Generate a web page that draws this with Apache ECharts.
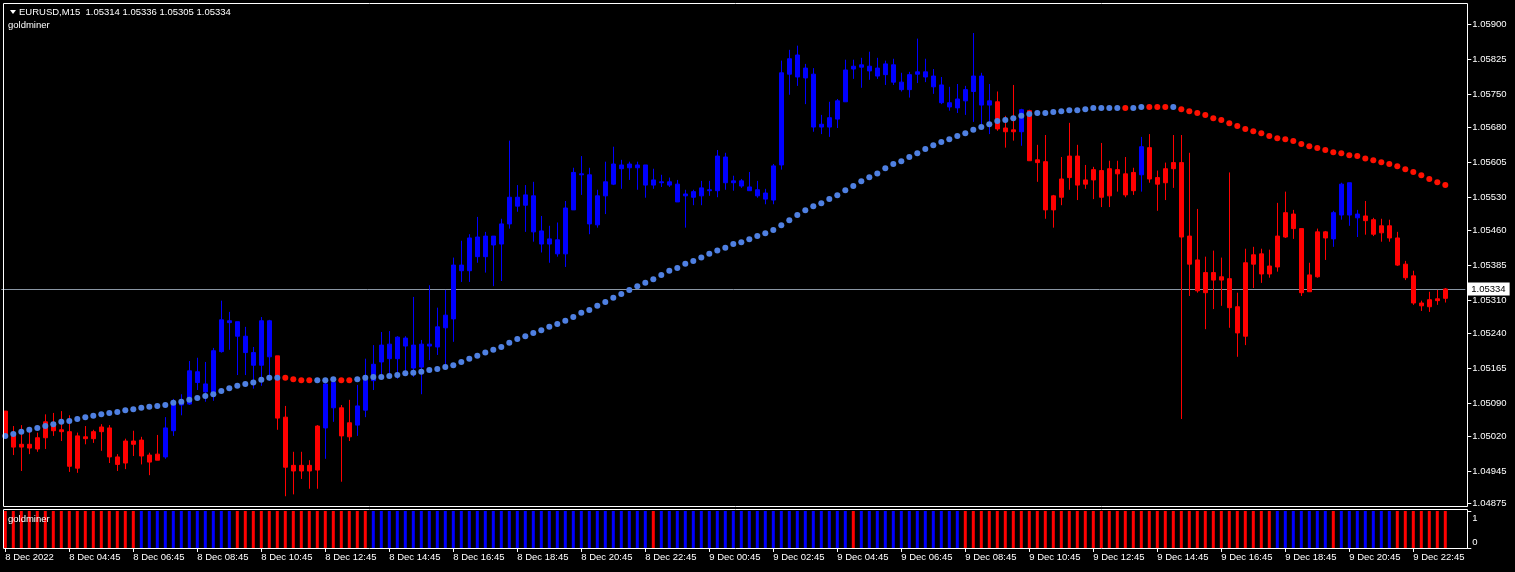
<!DOCTYPE html>
<html><head><meta charset="utf-8">
<script src="https://cdn.jsdelivr.net/npm/echarts@6/dist/echarts.min.js"></script>
<style>html,body{margin:0;padding:0;background:#000;overflow:hidden}#c{width:1515px;height:572px}</style>
</head><body><div id="c"></div>
<script>
// ---- DATA (EURUSD M15, bars from 8 Dec 02:45 to 9 Dec 23:45) ----
const open = [
1.05073,1.05022,1.04996,1.05002,1.04992,1.05016,1.05048,1.05033,1.05029,1.04951,
1.05018,1.05014,1.05029,1.05037,1.04975,1.04962,1.05009,1.05011,1.04979,1.04968,
1.04975,1.05031,1.05093,1.05088,1.05157,1.05131,1.05112,1.05200,1.05266,1.05264,
1.05233,1.05198,1.05171,1.05266,1.05191,1.05060,1.04957,1.04945,1.04957,1.04947,
1.05037,1.05134,1.05080,1.05018,1.05043,1.05075,1.05138,1.05178,1.05216,1.05185,
1.05229,1.05214,1.05167,1.05216,1.05210,1.05251,1.05270,1.05385,1.05373,1.05445,
1.05403,1.05447,1.05430,1.05473,1.05530,1.05513,1.05533,1.05458,1.05430,1.05439,
1.05409,1.05503,1.05580,1.05578,1.05471,1.05533,1.05558,1.05599,1.05593,1.05599,
1.05599,1.05556,1.05563,1.05563,1.05558,1.05533,1.05542,1.05533,1.05546,1.05544,
1.05616,1.05561,1.05565,1.05552,1.05546,1.05539,1.05524,1.05599,1.05793,1.05834,
1.05785,1.05793,1.05680,1.05680,1.05697,1.05734,1.05804,1.05808,1.05810,1.05806,
1.05792,1.05813,1.05776,1.05760,1.05793,1.05798,1.05789,1.05770,1.05732,1.05721,
1.05736,1.05756,1.05789,1.05727,1.05734,1.05678,1.05670,1.05670,1.05715,1.05610,
1.05606,1.05503,1.05530,1.05572,1.05618,1.05558,1.05567,1.05587,1.05533,1.05589,
1.05580,1.05544,1.05578,1.05636,1.05572,1.05561,1.05591,1.05604,1.05447,1.05396,
1.05326,1.05369,1.05353,1.05356,1.05296,1.05233,1.05387,1.05409,1.05366,1.05381,
1.05445,1.05494,1.05463,1.05328,1.05360,1.05456,1.05441,1.05492,1.05561,1.05494,
1.05490,1.05482,1.05454,1.05469,1.05443,1.05387,1.05362,1.05304,1.05296,1.05309,
1.05314];
const high = [
1.05073,1.05041,1.05043,1.05029,1.05027,1.05066,1.05069,1.05073,1.05064,1.05027,
1.05041,1.05033,1.05045,1.05043,1.04981,1.05014,1.05031,1.05018,1.04984,1.05022,
1.05060,1.05099,1.05109,1.05180,1.05187,1.05178,1.05208,1.05309,1.05285,1.05264,
1.05253,1.05210,1.05274,1.05268,1.05191,1.05084,1.04986,1.04986,1.04968,1.05043,
1.05134,1.05134,1.05086,1.05097,1.05129,1.05185,1.05214,1.05242,1.05244,1.05233,
1.05233,1.05317,1.05225,1.05342,1.05294,1.05332,1.05401,1.05437,1.05451,1.05488,
1.05456,1.05447,1.05484,1.05651,1.05556,1.05556,1.05563,1.05490,1.05469,1.05476,
1.05522,1.05593,1.05618,1.05593,1.05546,1.05606,1.05638,1.05610,1.05606,1.05606,
1.05599,1.05591,1.05578,1.05572,1.05567,1.05546,1.05546,1.05565,1.05565,1.05631,
1.05625,1.05576,1.05569,1.05584,1.05565,1.05548,1.05601,1.05822,1.05845,1.05854,
1.05815,1.05806,1.05706,1.05734,1.05740,1.05824,1.05824,1.05828,1.05841,1.05828,
1.05822,1.05826,1.05796,1.05798,1.05869,1.05826,1.05804,1.05787,1.05766,1.05772,
1.05768,1.05881,1.05796,1.05772,1.05756,1.05704,1.05770,1.05719,1.05717,1.05642,
1.05663,1.05535,1.05616,1.05689,1.05642,1.05599,1.05595,1.05646,1.05608,1.05608,
1.05616,1.05593,1.05659,1.05665,1.05587,1.05604,1.05663,1.05663,1.05625,1.05505,
1.05403,1.05416,1.05401,1.05583,1.05326,1.05420,1.05424,1.05420,1.05418,1.05518,
1.05542,1.05503,1.05463,1.05390,1.05463,1.05458,1.05501,1.05561,1.05561,1.05503,
1.05522,1.05486,1.05484,1.05482,1.05456,1.05394,1.05373,1.05309,1.05328,1.05332,
1.05336];
const low = [
1.05018,1.04979,1.04945,1.04981,1.04986,1.04992,1.05020,1.05009,1.04943,1.04941,
1.05002,1.05005,1.04988,1.04962,1.04945,1.04949,1.04977,1.04959,1.04936,1.04968,
1.04971,1.05020,1.05064,1.05086,1.05118,1.05093,1.05095,1.05198,1.05204,1.05150,
1.05150,1.05121,1.05127,1.05138,1.05033,1.04891,1.04895,1.04928,1.04907,1.04907,
1.04971,1.05050,1.04922,1.05009,1.05020,1.05060,1.05118,1.05142,1.05142,1.05142,
1.05148,1.05146,1.05109,1.05182,1.05193,1.05171,1.05221,1.05349,1.05349,1.05390,
1.05369,1.05340,1.05351,1.05463,1.05499,1.05456,1.05435,1.05412,1.05390,1.05403,
1.05381,1.05503,1.05535,1.05451,1.05465,1.05494,1.05556,1.05548,1.05567,1.05546,
1.05529,1.05548,1.05552,1.05552,1.05520,1.05465,1.05513,1.05513,1.05533,1.05530,
1.05546,1.05544,1.05550,1.05544,1.05529,1.05515,1.05515,1.05589,1.05749,1.05768,
1.05729,1.05670,1.05665,1.05659,1.05678,1.05734,1.05783,1.05764,1.05781,1.05783,
1.05770,1.05770,1.05756,1.05743,1.05774,1.05776,1.05751,1.05729,1.05715,1.05710,
1.05706,1.05691,1.05686,1.05665,1.05672,1.05636,1.05651,1.05640,1.05608,1.05563,
1.05484,1.05465,1.05513,1.05546,1.05524,1.05548,1.05526,1.05509,1.05509,1.05542,
1.05530,1.05535,1.05542,1.05561,1.05501,1.05524,1.05550,1.05056,1.05319,1.05326,
1.05248,1.05291,1.05298,1.05251,1.05189,1.05214,1.05336,1.05347,1.05358,1.05371,
1.05443,1.05441,1.05319,1.05328,1.05358,1.05396,1.05424,1.05482,1.05469,1.05445,
1.05450,1.05447,1.05435,1.05435,1.05383,1.05353,1.05300,1.05287,1.05285,1.05300,
1.05305];
const close = [
1.05018,1.04996,1.05002,1.04994,1.05016,1.05050,1.05031,1.05029,1.04955,1.05020,
1.05014,1.05029,1.05039,1.04975,1.04959,1.05009,1.05002,1.04977,1.04964,1.04981,
1.05037,1.05093,1.05086,1.05159,1.05134,1.05114,1.05202,1.05268,1.05262,1.05233,
1.05198,1.05171,1.05266,1.05189,1.05058,1.04953,1.04945,1.04957,1.04945,1.05041,
1.05131,1.05080,1.05020,1.05048,1.05084,1.05140,1.05173,1.05214,1.05185,1.05231,
1.05212,1.05165,1.05216,1.05212,1.05253,1.05278,1.05385,1.05373,1.05443,1.05403,
1.05447,1.05428,1.05473,1.05530,1.05511,1.05535,1.05456,1.05430,1.05441,1.05409,
1.05507,1.05583,1.05578,1.05473,1.05533,1.05563,1.05601,1.05591,1.05601,1.05593,
1.05556,1.05567,1.05561,1.05556,1.05520,1.05537,1.05530,1.05550,1.05544,1.05618,
1.05561,1.05565,1.05554,1.05544,1.05533,1.05526,1.05597,1.05796,1.05826,1.05787,
1.05806,1.05680,1.05686,1.05700,1.05736,1.05802,1.05810,1.05813,1.05800,1.05789,
1.05815,1.05776,1.05760,1.05792,1.05798,1.05787,1.05766,1.05732,1.05723,1.05740,
1.05760,1.05789,1.05727,1.05736,1.05676,1.05670,1.05674,1.05717,1.05608,1.05604,
1.05503,1.05533,1.05569,1.05618,1.05556,1.05567,1.05589,1.05530,1.05591,1.05580,
1.05535,1.05583,1.05638,1.05569,1.05558,1.05591,1.05604,1.05445,1.05387,1.05330,
1.05369,1.05353,1.05360,1.05294,1.05240,1.05390,1.05407,1.05366,1.05383,1.05447,
1.05497,1.05463,1.05326,1.05364,1.05456,1.05443,1.05497,1.05558,1.05492,1.05486,
1.05480,1.05451,1.05469,1.05443,1.05385,1.05358,1.05304,1.05298,1.05311,1.05313,
1.05334];
// goldminer dotted line
const goldLine = [
1.05020,1.05024,1.05029,1.05033,1.05037,1.05041,1.05045,1.05050,1.05052,1.05056,
1.05060,1.05063,1.05066,1.05069,1.05071,1.05075,1.05077,1.05080,1.05082,1.05084,
1.05086,1.05091,1.05093,1.05097,1.05101,1.05105,1.05109,1.05116,1.05122,1.05127,
1.05131,1.05134,1.05140,1.05144,1.05144,1.05144,1.05141,1.05139,1.05139,1.05139,
1.05139,1.05141,1.05139,1.05139,1.05141,1.05144,1.05146,1.05146,1.05148,1.05150,
1.05154,1.05155,1.05157,1.05161,1.05163,1.05167,1.05171,1.05178,1.05185,1.05191,
1.05198,1.05204,1.05210,1.05219,1.05227,1.05233,1.05240,1.05246,1.05253,1.05259,
1.05266,1.05274,1.05283,1.05289,1.05298,1.05306,1.05315,1.05323,1.05332,1.05340,
1.05347,1.05355,1.05364,1.05373,1.05379,1.05388,1.05394,1.05401,1.05409,1.05416,
1.05422,1.05430,1.05434,1.05440,1.05447,1.05453,1.05460,1.05470,1.05481,1.05492,
1.05502,1.05511,1.05517,1.05526,1.05534,1.05545,1.05554,1.05564,1.05573,1.05581,
1.05592,1.05601,1.05607,1.05616,1.05624,1.05633,1.05641,1.05648,1.05654,1.05661,
1.05667,1.05674,1.05680,1.05686,1.05693,1.05695,1.05699,1.05704,1.05708,1.05710,
1.05710,1.05712,1.05714,1.05716,1.05716,1.05718,1.05721,1.05721,1.05721,1.05721,
1.05721,1.05721,1.05723,1.05723,1.05723,1.05723,1.05723,1.05718,1.05714,1.05710,
1.05706,1.05699,1.05695,1.05688,1.05682,1.05676,1.05671,1.05667,1.05661,1.05656,
1.05654,1.05650,1.05644,1.05639,1.05635,1.05631,1.05626,1.05624,1.05620,1.05618,
1.05613,1.05609,1.05605,1.05601,1.05596,1.05590,1.05584,1.05577,1.05569,1.05562,
1.05556];
// colour runs: R = red, B = blue
const candleColorRuns = [['R',20],['B',14],['R',6],['B',2],['R',2],['B',80],['R',3],['B',1],['R',14],['B',1],['R',23],['B',4],['R',11]];
const lineColorRuns   = [['B',35],['R',4],['B',3],['R',2],['B',96],['R',1],['B',2],['R',3],['B',1],['R',34]];
const histColorRuns   = [['R',17],['B',12],['R',17],['B',35],['R',1],['B',24],['R',1],['B',13],['R',39],['B',7],['R',1],['B',7],['R',7]];

const yTickLabels = ['1.05900','1.05825','1.05750','1.05680','1.05605','1.05530','1.05460','1.05385','1.05310','1.05240','1.05165','1.05090','1.05020','1.04945','1.04875'];
const xTickLabels = ['8 Dec 2022','8 Dec 04:45','8 Dec 06:45','8 Dec 08:45','8 Dec 10:45','8 Dec 12:45','8 Dec 14:45','8 Dec 16:45','8 Dec 18:45','8 Dec 20:45','8 Dec 22:45',
 '9 Dec 00:45','9 Dec 02:45','9 Dec 04:45','9 Dec 06:45','9 Dec 08:45','9 Dec 10:45','9 Dec 12:45','9 Dec 14:45','9 Dec 16:45','9 Dec 18:45','9 Dec 20:45','9 Dec 22:45'];
const subTickLabels = ['0','1'];
const headerText = 'EURUSD,M15  1.05314 1.05336 1.05305 1.05334';
const indicatorName = 'goldminer';

// ---- BUILD ----
const expand = runs => runs.flatMap(([c, n]) => Array(n).fill(c));
const COL = {R: '#ff0000', B: '#0000ff'};
const DOT = {R: '#ff1000', B: '#4f80e2'};
const candleCols = expand(candleColorRuns);
const lineCols = expand(lineColorRuns);
const histCols = expand(histColorRuns);
const N = open.length;
const cats = Array.from({length: N + 2}, (_, i) => String(i));
const FONT = 'Liberation Sans';

const candleData = open.map((o, i) => {
  const c = COL[candleCols[i]];
  return {value: [o, close[i], low[i], high[i]], itemStyle: {color: c, color0: c, borderColor: c, borderColor0: c, borderColorDoji: c}};
});
const dotData = goldLine.map((v, i) => ({value: [i, v], itemStyle: {color: DOT[lineCols[i]], opacity: 1}}));
const histData = histCols.map(c => ({value: 1, itemStyle: {color: COL[c]}}));
const lastClose = close[N - 1];
const xInterval = (idx) => idx % 8 === 0 && idx / 8 < xTickLabels.length;

const chart = echarts.init(document.getElementById('c'), null, {renderer: 'canvas'});
chart.setOption({
  backgroundColor: '#000',
  animation: false,
  grid: [
    {left: 1.3, top: 4, width: 1464, height: 503},
    {left: 1.3, top: 511, width: 1464, height: 37}
  ],
  xAxis: [
    {type: 'category', gridIndex: 0, data: cats, boundaryGap: true,
     axisLine: {show: false}, axisTick: {show: false}, axisLabel: {show: false}, splitLine: {show: false}},
    {type: 'category', gridIndex: 1, data: cats, boundaryGap: true,
     axisLine: {show: false},
     axisTick: {show: true, alignWithLabel: true, interval: xInterval, length: 4, lineStyle: {color: '#fff', width: 1}},
     axisLabel: {show: true, interval: xInterval, align: 'left', color: '#fff', fontFamily: FONT, fontSize: 9.5, margin: 4,
       formatter: (v, idx) => xTickLabels[idx / 8] || ''},
     splitLine: {show: false}}
  ],
  yAxis: [
    {type: 'value', gridIndex: 0, position: 'right', offset: 2, min: 1.04868, max: 1.05943, scale: true,
     axisLine: {show: false}, splitLine: {show: false},
     axisTick: {show: true, length: 4, customValues: yTickLabels.map(Number), lineStyle: {color: '#fff'}},
     axisLabel: {show: true, customValues: yTickLabels.map(Number), color: '#fff', fontFamily: FONT, fontSize: 9.5, margin: 5,
       formatter: v => v.toFixed(5)}},
    {type: 'value', gridIndex: 1, position: 'right', offset: 2, min: 0, max: 1,
     axisLine: {show: false}, splitLine: {show: false},
     axisTick: {show: true, length: 4, customValues: [0, 1], lineStyle: {color: '#fff'}},
     axisLabel: {show: true, customValues: [0, 1], margin: 5,
       formatter: v => v === 1 ? '{t|' + subTickLabels[1] + '}' : '{b|' + subTickLabels[0] + '}',
       rich: {t: {color: '#fff', fontFamily: FONT, fontSize: 9.5, padding: [14, 0, 0, 0]},
              b: {color: '#fff', fontFamily: FONT, fontSize: 9.5, padding: [0, 0, 12, 0]}}}}
  ],
  series: [
    {type: 'candlestick', xAxisIndex: 0, yAxisIndex: 0, data: candleData, barWidth: 4,
     itemStyle: {borderWidth: 1}, z: 3},
    {type: 'scatter', xAxisIndex: 0, yAxisIndex: 0, data: dotData, symbol: 'circle', symbolSize: 6, z: 5,
     itemStyle: {opacity: 1},
     markLine: {silent: true, symbol: ['none', 'none'], animation: false, precision: 5, z: 2,
       data: [{yAxis: lastClose}],
       lineStyle: {color: '#8a96a4', width: 1, type: 'solid', opacity: 1},
       label: {show: true, position: 'end', distance: 2, formatter: () => lastClose.toFixed(5),
         backgroundColor: '#fff', color: '#000', fontFamily: FONT, fontSize: 9.5, padding: [2, 4, 1, 4]}}},
    {type: 'bar', xAxisIndex: 1, yAxisIndex: 1, data: histData, barWidth: 3}
  ],
  graphic: [
    {type: 'rect', z: 50, silent: true, shape: {x: 3.5, y: 3.5, width: 1464, height: 503}, style: {fill: null, stroke: '#fff', lineWidth: 1}},
    {type: 'rect', z: 50, silent: true, shape: {x: 3.5, y: 509.5, width: 1464, height: 39}, style: {fill: null, stroke: '#fff', lineWidth: 1}},
    {type: 'polygon', z: 60, silent: true, shape: {points: [[10, 10], [16, 10], [13, 14]]}, style: {fill: '#fff'}},
    {type: 'text', z: 60, silent: true, x: 19, y: 12.5, style: {text: headerText, fill: '#fff', font: '9.5px "' + FONT + '"', textVerticalAlign: 'middle'}},
    {type: 'text', z: 60, silent: true, x: 8, y: 25, style: {text: indicatorName, fill: '#fff', font: '9.5px "' + FONT + '"', textVerticalAlign: 'middle'}},
    {type: 'text', z: 60, silent: true, x: 8, y: 519, style: {text: indicatorName, fill: '#fff', font: '9.5px "' + FONT + '"', textVerticalAlign: 'middle'}}
  ]
});
</script></body></html>
